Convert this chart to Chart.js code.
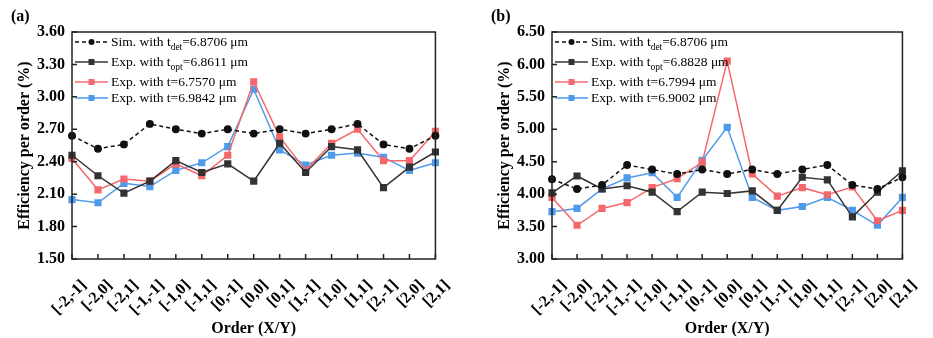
<!DOCTYPE html>
<html>
<head>
<meta charset="utf-8">
<script src="https://cdn.jsdelivr.net/npm/chart.js@4/dist/chart.umd.min.js"></script>
<style>
  body { margin: 0; background: #fff; }
  .wrap { display: flex; width: 933px; height: 338px; }
  canvas { display: block; }
</style>
</head>
<body>
<div class="wrap">
  <canvas id="chartA" width="466" height="338"></canvas>
  <canvas id="chartB" width="467" height="338"></canvas>
</div>
<script>
const orders = ["[-2,-1]", "[-2,0]", "[-2,1]", "[-1,-1]", "[-1,0]", "[-1,1]", "[0,-1]", "[0,0]",
  "[0,1]", "[1,-1]", "[1,0]", "[1,1]", "[2,-1]", "[2,0]", "[2,1]"];

// panel (a)
const simA = [2.64, 2.52, 2.56, 2.75, 2.70, 2.66, 2.70, 2.66, 2.70, 2.66, 2.70, 2.75, 2.56, 2.52, 2.64];
const optA = [2.46, 2.27, 2.11, 2.22, 2.41, 2.30, 2.38, 2.22, 2.57, 2.30, 2.54, 2.51, 2.16, 2.35, 2.49];
const lowA = [2.43, 2.14, 2.24, 2.22, 2.38, 2.27, 2.46, 3.14, 2.63, 2.32, 2.57, 2.70, 2.41, 2.41, 2.68];
const highA = [2.05, 2.02, 2.20, 2.17, 2.32, 2.39, 2.54, 3.07, 2.51, 2.37, 2.46, 2.48, 2.44, 2.32, 2.39];
const namesA = ["Sim. with t_{det}=6.8706 μm", "Exp. with t_{opt}=6.8611 μm",
  "Exp. with t=6.7570 μm", "Exp. with t=6.9842 μm"];

// panel (b)
const simB = [4.23, 4.08, 4.14, 4.45, 4.38, 4.31, 4.38, 4.31, 4.38, 4.31, 4.38, 4.45, 4.14, 4.08, 4.26];
const optB = [4.02, 4.28, 4.08, 4.13, 4.03, 3.73, 4.03, 4.01, 4.05, 3.75, 4.26, 4.22, 3.65, 4.03, 4.36];
const lowB = [3.95, 3.52, 3.78, 3.87, 4.10, 4.24, 4.49, 6.05, 4.31, 3.97, 4.10, 3.99, 4.11, 3.59, 3.75];
const highB = [3.73, 3.78, 4.08, 4.25, 4.33, 3.95, 4.52, 5.03, 3.95, 3.75, 3.81, 3.95, 3.75, 3.52, 3.95];
const namesB = ["Sim. with t_{det}=6.8706 μm", "Exp. with t_{opt}=6.8828 μm",
  "Exp. with t=6.7994 μm", "Exp. with t=6.9002 μm"];

const FONT = "'Liberation Serif', 'Times New Roman', serif";
const colors = ["#111111", "#333333", "#f4686b", "#4f9aea"];

// frame, inward ticks, panel letter and an in-plot legend
const decor = {
  id: "decor",
  afterDraw(chart, args, opts) {
    const ctx = chart.ctx;
    const a = chart.chartArea;
    const xs = chart.scales.x, ys = chart.scales.y;
    ctx.save();
    ctx.strokeStyle = "#222";
    ctx.lineWidth = 1.5;
    ctx.strokeRect(a.left, a.top, a.right - a.left, a.bottom - a.top);
    ctx.beginPath();
    xs.ticks.forEach((t, i) => {
      const x = xs.getPixelForTick(i);
      ctx.moveTo(x, a.bottom); ctx.lineTo(x, a.bottom - 5);
    });
    ys.ticks.forEach((t, i) => {
      const y = ys.getPixelForTick(i);
      ctx.moveTo(a.left, y); ctx.lineTo(a.left + 5, y);
    });
    ctx.stroke();

    ctx.fillStyle = "#000";
    ctx.font = "bold 16px " + FONT;
    ctx.textBaseline = "middle";
    ctx.textAlign = "left";
    ctx.fillText(opts.letter, a.left - 61, 17);

    // legend
    const rows = [10, 30, 50, 66];
    chart.data.datasets.forEach((ds, i) => {
      const y = a.top + rows[i];
      const x0 = a.left + 3, x1 = a.left + 36;
      ctx.strokeStyle = ds.borderColor;
      ctx.lineWidth = ds.borderWidth;
      ctx.setLineDash(ds.borderDash || []);
      ctx.beginPath(); ctx.moveTo(x0, y); ctx.lineTo(x1, y); ctx.stroke();
      ctx.setLineDash([]);
      ctx.fillStyle = ds.backgroundColor;
      const mx = (x0 + x1) / 2;
      if (ds.pointStyle === "circle") {
        ctx.beginPath(); ctx.arc(mx, y, 3, 0, Math.PI * 2); ctx.fill();
      } else {
        ctx.fillRect(mx - 3, y - 3, 6, 6);
      }
      // text with subscript
      ctx.fillStyle = "#000";
      let tx = a.left + 39;
      const parts = ds.label.split(/_\{|\}/);
      parts.forEach((p, k) => {
        const sub = k % 2 === 1;
        ctx.font = (sub ? "9.5px " : "13.5px ") + FONT;
        ctx.fillText(p, tx, sub ? y + 5 : y);
        tx += ctx.measureText(p).width;
      });
    });
    ctx.restore();
  }
};

function makeChart(id, series, names, yMin, yMax, step, letter, padLeft, padRight) {
  const datasets = series.map((vals, i) => ({
    label: names[i],
    data: vals,
    borderColor: colors[i],
    backgroundColor: colors[i],
    borderWidth: 1.5,
    borderDash: i === 0 ? [4, 3] : [],
    pointStyle: i === 0 ? "circle" : "rect",
    pointRadius: i === 0 ? 3.2 : 4,
    pointHoverRadius: 4,
    tension: 0
  }));
  return new Chart(document.getElementById(id), {
    type: "line",
    data: { labels: orders, datasets: datasets },
    options: {
      responsive: false,
      animation: false,
      layout: { padding: { left: padLeft, right: padRight, top: 32, bottom: 0 } },
      plugins: { legend: { display: false }, tooltip: { enabled: false }, decor: { letter: letter } },
      scales: {
        x: {
          grid: { display: false, drawTicks: false },
          border: { display: false },
          afterFit: s => { s.height = 79; },
          ticks: {
            color: "#000", padding: 17, labelOffset: 12, minRotation: 45, maxRotation: 45, autoSkip: false,
            font: { family: FONT, size: 16, weight: "bold" }
          },
          title: {
            display: true, text: "Order (X/Y)", color: "#000", padding: { top: 0, bottom: 0 },
            font: { family: FONT, size: 16, weight: "bold" }
          }
        },
        y: {
          min: yMin, max: yMax,
          grid: { display: false, drawTicks: false },
          border: { display: false },
          afterFit: s => { s.width = 72; },
          ticks: {
            stepSize: step, color: "#000", padding: 7,
            callback: v => v.toFixed(2),
            font: { family: FONT, size: 16, weight: "bold" }
          },
          title: {
            display: true, text: "Efficiency per order (%)", color: "#000", padding: { top: 15, bottom: 0 },
            font: { family: FONT, size: 16, weight: "bold" }
          }
        }
      }
    },
    plugins: [decor]
  });
}

makeChart("chartA", [simA, optA, lowA, highA], namesA, 1.5, 3.6, 0.3, "(a)", 0, 29);
makeChart("chartB", [simB, optB, lowB, highB], namesB, 3.0, 6.5, 0.5, "(b)", 14, 16);
</script>
</body>
</html>
